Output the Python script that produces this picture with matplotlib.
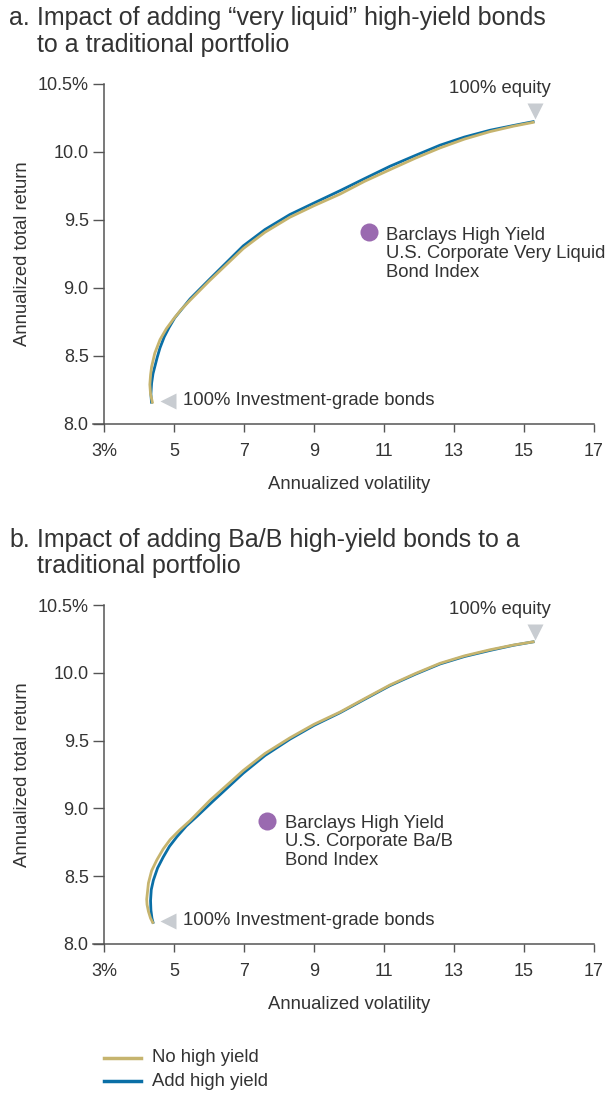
import matplotlib.pyplot as plt
from matplotlib.lines import Line2D

# panel a: "very liquid" high-yield
vol_a_no = [4.39, 4.33, 4.31, 4.33, 4.36, 4.45, 4.6, 4.78, 4.98, 5.2, 5.46, 6.0, 6.98, 7.6, 8.31, 9.0, 9.74, 10.45,
            11.17, 11.9, 12.6, 13.3, 14.03, 14.7, 15.3]
ret_a_no = [8.15, 8.22, 8.29, 8.36, 8.42, 8.52, 8.62, 8.70, 8.77, 8.84, 8.91, 9.05, 9.29, 9.41, 9.52, 9.605, 9.69, 9.785,
            9.87, 9.955, 10.03, 10.095, 10.15, 10.19, 10.22]
vol_a_hy = [4.36, 4.34, 4.36, 4.40, 4.46, 4.52, 4.6, 4.72, 4.86, 5.02, 5.46, 6.0, 6.98, 7.6, 8.31, 9.0, 9.74, 10.45,
            11.17, 11.9, 12.6, 13.3, 14.03, 14.7, 15.3]
ret_a_hy = [8.15, 8.22, 8.30, 8.37, 8.43, 8.49, 8.56, 8.64, 8.71, 8.78, 8.92, 9.06, 9.31, 9.43, 9.54, 9.625, 9.715, 9.805,
            9.895, 9.975, 10.05, 10.11, 10.16, 10.195, 10.225]

# panel b: Ba/B high-yield
vol_b_no = [4.41, 4.33, 4.27, 4.23, 4.22, 4.27, 4.36, 4.51, 4.69, 4.89, 5.16, 5.46, 6.03, 6.98, 7.6, 8.31, 9.0, 9.74,
            10.45, 11.17, 11.9, 12.6, 13.3, 14.03, 14.7, 15.3]
ret_b_no = [8.15, 8.19, 8.24, 8.29, 8.33, 8.45, 8.54, 8.62, 8.70, 8.77, 8.84, 8.91, 9.06, 9.28, 9.405, 9.52, 9.62, 9.71,
            9.81, 9.91, 9.995, 10.07, 10.125, 10.17, 10.205, 10.23]
vol_b_hy = [4.41, 4.37, 4.34, 4.33, 4.35, 4.41, 4.53, 4.69, 4.87, 5.08, 5.35, 5.65, 6.1, 6.98, 7.6, 8.31, 9.0, 9.74,
            10.45, 11.17, 11.9, 12.6, 13.3, 14.03, 14.7, 15.3]
ret_b_hy = [8.15, 8.19, 8.25, 8.32, 8.40, 8.47, 8.56, 8.64, 8.72, 8.79, 8.87, 8.94, 9.05, 9.26, 9.39, 9.51, 9.612, 9.705,
            9.805, 9.905, 9.99, 10.065, 10.12, 10.165, 10.203, 10.23]

x_ticks = [3, 5, 7, 9, 11, 13, 15, 17]
x_labels = ['3%', '5', '7', '9', '11', '13', '15', '17']
y_ticks = [8.0, 8.5, 9.0, 9.5, 10.0, 10.5]
y_labels = ['8.0', '8.5', '9.0', '9.5', '10.0', '10.5%']

titles = [("a.", "Impact of adding \u201cvery liquid\u201d high-yield bonds\nto a traditional portfolio"),
          ("b.", "Impact of adding Ba/B high-yield bonds to a\ntraditional portfolio")]
index_labels = ["Barclays High Yield\nU.S. Corporate Very Liquid\nBond Index",
                "Barclays High Yield\nU.S. Corporate Ba/B\nBond Index"]
index_points = [(10.57, 9.41), (7.66, 8.91)]
equity_point = (15.3, 10.30)
bond_point = (4.83, 8.17)

GOLD = '#C6B46E'
BLUE = '#0A6FA6'
PURPLE = '#9A6AB0'
GRAY = '#C8CCD1'
TEXT = '#333333'
AX = '#555555'

plt.rcParams['font.family'] = ['Liberation Sans', 'DejaVu Sans']

W, H = 612, 1094
fig = plt.figure(figsize=(W / 100, H / 100), dpi=100)


def fx(px):
    return px / W


def fy(py):
    return 1 - py / H


panels = [
    (84, 424, vol_a_no, ret_a_no, vol_a_hy, ret_a_hy, 0),
    (605, 944, vol_b_no, ret_b_no, vol_b_hy, ret_b_hy, 1),
]
title_y = [(18, 45), (540, 566)]

for top, bottom, vn, rn, vh, rh, i in panels:
    ax = fig.add_axes([fx(104), fy(bottom), fx(594) - fx(104), (bottom - top) / H])
    ax.plot(vh, rh, color=BLUE, lw=2.0, solid_capstyle='butt', zorder=3)
    ax.plot(vn, rn, color=GOLD, lw=2.0, solid_capstyle='butt', zorder=4)
    ax.plot(*index_points[i], 'o', color=PURPLE, ms=13, mec='none', zorder=5)
    ax.plot(*equity_point, 'v', color=GRAY, ms=12, mec='none', clip_on=False)
    ax.plot(*bond_point, '<', color=GRAY, ms=12, mec='none', clip_on=False)
    ax.text(index_points[i][0] + 0.5, index_points[i][1] - 0.157, index_labels[i],
            ha='left', va='center', fontsize=13.3, color=TEXT, linespacing=1.12)
    ax.text(15.75, 10.47, "100% equity", ha='right', va='center', fontsize=13.3, color=TEXT)
    ax.text(5.26, 8.17, "100% Investment-grade bonds", ha='left', va='center', fontsize=13.3, color=TEXT)

    ax.set_xlim(3, 17)
    ax.set_ylim(8.0, 10.5)
    ax.set_xticks(x_ticks)
    ax.set_xticklabels(x_labels)
    ax.set_yticks(y_ticks)
    ax.set_yticklabels(y_labels)
    ax.tick_params(axis='x', length=6, width=1, color=AX, pad=8, labelsize=13, labelcolor=TEXT)
    ax.tick_params(axis='y', length=8, width=1, color=AX, pad=3, labelsize=13, labelcolor=TEXT)
    for s in ['top', 'right']:
        ax.spines[s].set_visible(False)
    for s in ['left', 'bottom']:
        ax.spines[s].set_color(AX)
        ax.spines[s].set_linewidth(1.1)
    # bottom axis line runs a little past the y axis
    ax.add_line(Line2D([-0.022, 0], [0, 0], transform=ax.transAxes, color=AX, lw=1.1, clip_on=False))

    ax.set_xlabel("Annualized volatility", fontsize=13.3, color=TEXT, labelpad=11)
    ax.set_ylabel("Annualized total return", fontsize=13.3, color=TEXT, labelpad=5)

    fig.text(fx(9), fy(title_y[i][0]), titles[i][0], fontsize=18, color=TEXT, va='center', ha='left')
    t1, t2 = titles[i][1].split("\n")
    fig.text(fx(37), fy(title_y[i][0]), t1, fontsize=18, color=TEXT, va='center', ha='left')
    fig.text(fx(37), fy(title_y[i][1]), t2, fontsize=18, color=TEXT, va='center', ha='left')

# legend
fig.add_artist(Line2D([fx(104), fx(141)], [fy(1058), fy(1058)], color=GOLD, lw=2.5))
fig.add_artist(Line2D([fx(104), fx(141)], [fy(1081), fy(1081)], color=BLUE, lw=2.5))
fig.text(fx(152), fy(1058), "No high yield", fontsize=13.3, color=TEXT, va='center')
fig.text(fx(152), fy(1081), "Add high yield", fontsize=13.3, color=TEXT, va='center')

fig.savefig("out.png", dpi=100)
